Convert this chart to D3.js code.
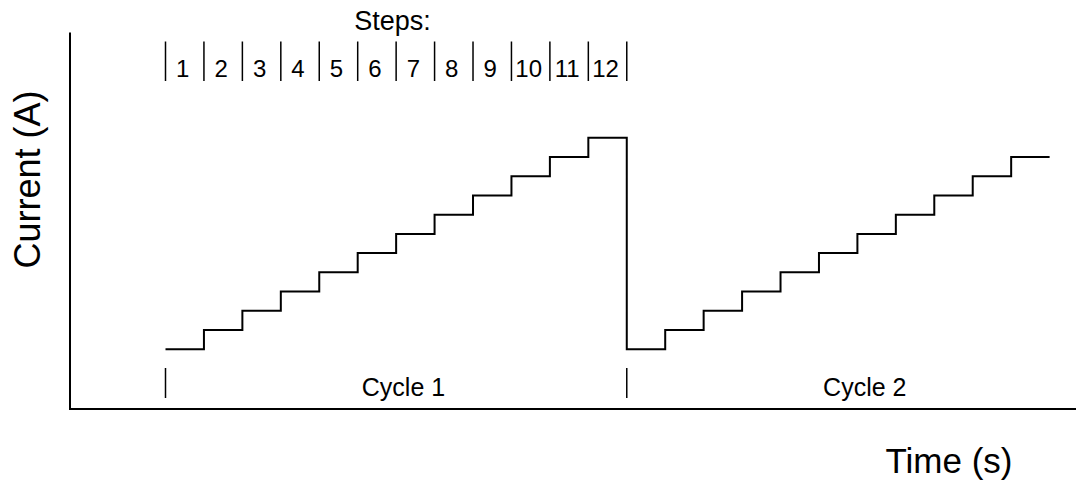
<!DOCTYPE html>
<html>
<head>
<meta charset="utf-8">
<script src="https://cdn.jsdelivr.net/npm/d3@7"></script>
<style>
  body { margin: 0; background: #fff; }
  text { font-family: "Liberation Sans", Arial, sans-serif; fill: #000; }
</style>
</head>
<body>
<div class="chart"></div>
<script>
// time (in step units) and current level at each step change
const stepTimes = [0, 1, 2, 3, 4, 5, 6, 7, 8, 9, 10, 11, 12, 13, 14, 15, 16, 17, 18, 19, 20, 21, 22, 23];
const current = [1, 2, 3, 4, 5, 6, 7, 8, 9, 10, 11, 12, 1, 2, 3, 4, 5, 6, 7, 8, 9, 10, 11, 11];

const stepLabels = ["1", "2", "3", "4", "5", "6", "7", "8", "9", "10", "11", "12"];
const cycleLabels = ["Cycle 1", "Cycle 2"];
const cycleStarts = [0, 12];

const w = 1076, h = 482;

const svg = d3.select(".chart").append("svg")
  .attr("width", w)
  .attr("height", h);

const x = d3.scaleLinear().domain([0, 23]).range([165.5, 1049.6]);
const y = d3.scaleLinear().domain([1, 12]).range([349.3, 137.7]);

// axes (no ticks, just the lines)
svg.append("line")
  .attr("x1", 70).attr("x2", 70)
  .attr("y1", 32.5).attr("y2", 409)
  .attr("stroke", "#000").attr("stroke-width", 2);
svg.append("line")
  .attr("x1", 69).attr("x2", w)
  .attr("y1", 409).attr("y2", 409)
  .attr("stroke", "#000").attr("stroke-width", 2);

// the current staircase
const points = stepTimes.map((t, i) => [t, current[i]]);
const line = d3.line()
  .x(d => x(d[0]))
  .y(d => y(d[1]))
  .curve(d3.curveStepAfter);

svg.append("path")
  .datum(points)
  .attr("d", line)
  .attr("fill", "none")
  .attr("stroke", "#000")
  .attr("stroke-width", 2);

// step markers along the top
svg.append("text")
  .attr("x", 392.5).attr("y", 30)
  .attr("text-anchor", "middle")
  .attr("font-size", 27)
  .text("Steps:");

const stepEdges = d3.range(stepLabels.length + 1);
svg.selectAll(".stepTick")
  .data(stepEdges)
  .enter()
  .append("line")
  .attr("class", "stepTick")
  .attr("x1", d => x(d)).attr("x2", d => x(d))
  .attr("y1", 41.5).attr("y2", 81)
  .attr("stroke", "#000").attr("stroke-width", 1.5);

svg.selectAll(".stepLabel")
  .data(stepLabels)
  .enter()
  .append("text")
  .attr("class", "stepLabel")
  .attr("x", (d, i) => x(i + 0.5) - 2)
  .attr("y", 76.7)
  .attr("text-anchor", "middle")
  .attr("font-size", 24)
  .text(d => d);

// cycle markers along the bottom
svg.selectAll(".cycleTick")
  .data(cycleStarts)
  .enter()
  .append("line")
  .attr("class", "cycleTick")
  .attr("x1", d => x(d)).attr("x2", d => x(d))
  .attr("y1", 368).attr("y2", 398)
  .attr("stroke", "#000").attr("stroke-width", 1.5);

svg.selectAll(".cycleLabel")
  .data(cycleLabels)
  .enter()
  .append("text")
  .attr("class", "cycleLabel")
  .attr("x", (d, i) => x(cycleStarts[i]) + 238)
  .attr("y", 396)
  .attr("text-anchor", "middle")
  .attr("font-size", 25)
  .text(d => d);

// axis titles
svg.append("text")
  .attr("transform", "translate(40,179.5) rotate(-90)")
  .attr("text-anchor", "middle")
  .attr("font-size", 36)
  .text("Current (A)");

svg.append("text")
  .attr("x", 949).attr("y", 473)
  .attr("text-anchor", "middle")
  .attr("font-size", 35)
  .text("Time (s)");
</script>
</body>
</html>
